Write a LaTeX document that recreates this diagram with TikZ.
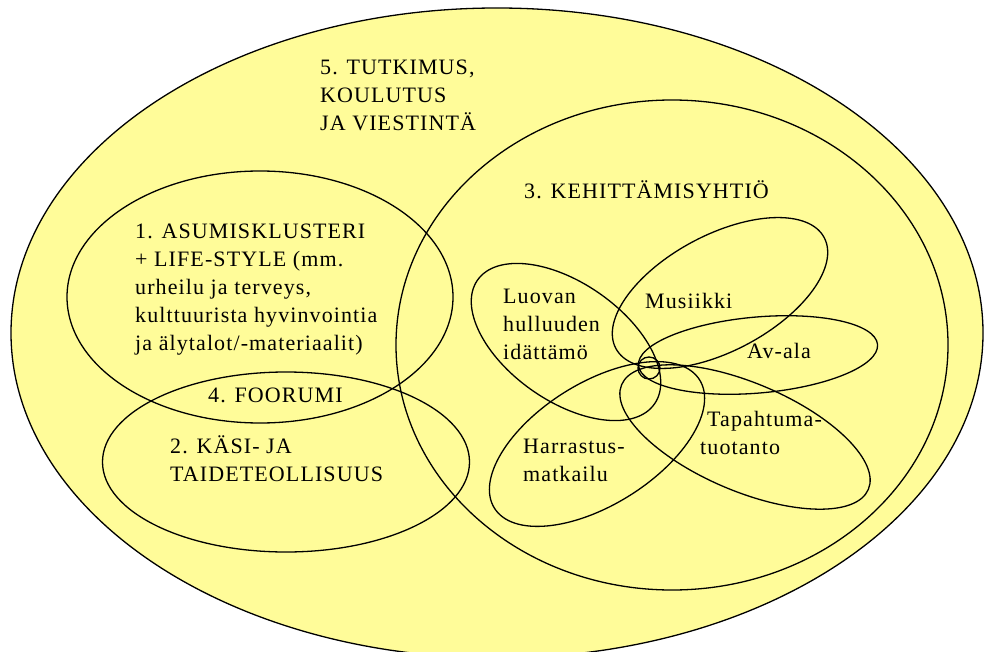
\documentclass[tikz,border=0pt]{standalone}
\usepackage{fontspec}
\setmainfont{Liberation Serif}[LetterSpace=5]
\usetikzlibrary{shapes.geometric}
\definecolor{vennfill}{RGB}{255,252,153}
\begin{document}
\begin{tikzpicture}[x=1pt,y=-1pt,
  oval/.style n args={2}{ellipse, draw=black, line width=1.3pt, inner sep=0pt,
    minimum width=#1, minimum height=#2},
  lbl/.style={anchor=base west, inner sep=0pt, align=left,
    font=\fontsize{22}{28}\selectfont}]
\useasboundingbox (0,0) rectangle (984,652);
% outer field
\node[oval={972pt}{650pt}, fill=vennfill] (tutkimus) at (497,333) {};
% main clusters
\node[oval={386pt}{252pt}] (asum) at (260,297) {};
\node[oval={367pt}{180pt}] (kasi) at (286,462) {};
\node[oval={552pt}{490pt}] (kehit) at (672,345) {};
% petals
\node[oval={216pt}{118pt}, rotate=-35] (luovan) at (566,342) {};
\node[oval={236pt}{116pt}, rotate=28] (musiikki) at (720,293) {};
\node[oval={240pt}{76pt}, rotate=5] (avala) at (758,355) {};
\node[oval={268pt}{108pt}, rotate=-23] (tapahtuma) at (745,437) {};
\node[oval={242pt}{122pt}, rotate=32] (harrastus) at (597,444) {};
\node[oval={22pt}{22pt}] (keskus) at (649,368) {};
% labels (base = baseline of the last line)
\node[lbl] (t5) at (320,131) {5. TUTKIMUS,\\KOULUTUS\\JA VIESTINTÄ};
\node[lbl] (t3) at (524,199) {3. KEHITTÄMISYHTIÖ};
\node[lbl] (t1) at (135,350) {1. ASUMISKLUSTERI\\+ LIFE-STYLE (mm.\\urheilu ja terveys,\\kulttuurista hyvinvointia\\ja älytalot/-materiaalit)};
\node[lbl] (t4) at (208,402) {4. FOORUMI};
\node[lbl] (t2) at (170,481) {2. KÄSI- JA\\TAIDETEOLLISUUS};
\node[lbl] (tl) at (503,359) {Luovan\\hulluuden\\idättämö};
\node[lbl] (tm) at (645,308) {Musiikki};
\node[lbl] (ta) at (747,358) {Av-ala};
\node[lbl] (tt) at (700,454) {\hspace*{7pt}Tapahtuma-\\tuotanto};
\node[lbl] (th) at (523,481) {Harrastus-\\matkailu};
\end{tikzpicture}
\end{document}
